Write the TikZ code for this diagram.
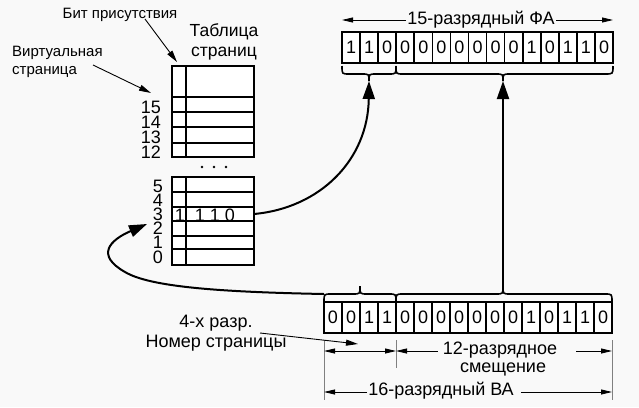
\documentclass[tikz,border=0pt]{standalone}
\usepackage{fontspec}
\setmainfont{Liberation Sans}
\usetikzlibrary{arrows.meta,calc}
\definecolor{bgc}{RGB}{249,249,249}
\begin{document}
\begin{tikzpicture}[x=1pt,y=-1pt,
  cellbox/.style={draw, line width=1.6pt, fill=white, inner sep=0pt, outer sep=0pt,
    anchor=north west, font=\fontsize{18}{18}\selectfont},
  tbl/.style={line width=2pt},
  lbl/.style={font=\fontsize{18}{20}\selectfont, inner sep=1pt, align=center},
  smalllbl/.style={font=\fontsize{15}{18}\selectfont, inner sep=1pt, align=left},
  numlbl/.style={font=\fontsize{18}{18}\selectfont, inner sep=0pt, anchor=east},
  bigarrow/.style={line width=2pt, -{Triangle[length=18pt,width=12pt]}},
  thinarrow/.style={line width=0.9pt, -{Triangle[length=12pt,width=6pt]}},
  dimline/.style={line width=0.8pt},
  dimtip/.style={-{Triangle[length=11pt,width=5pt]}},
  tick/.style={line width=0.8pt, draw=gray},
  bracestyle/.style={line width=1.6pt}
]
\useasboundingbox[fill=bgc] (0,0) rectangle (639,407);

% ---------- page table ----------
\draw[tbl, fill=white] (172,66) rectangle (254,157);
\draw[tbl] (186,66) -- (186,157);
\foreach \yy in {97,112,127,143} \draw[tbl] (172,\yy) -- (254,\yy);
\draw[tbl, fill=white] (172,177) rectangle (254,265);
\draw[tbl] (186,177) -- (186,265);
\foreach \yy in {192,207,221,236,249} \draw[tbl] (172,\yy) -- (254,\yy);
\fill (202,167) circle (1.3);
\fill (214,167) circle (1.3);
\fill (226,167) circle (1.3);

\node[numlbl] (n15) at (161,107) {15};
\node[numlbl] (n14) at (161,122) {14};
\node[numlbl] (n13) at (161,137) {13};
\node[numlbl] (n12) at (161,152) {12};
\node[numlbl] (n5) at (163,186) {5};
\node[numlbl] (n4) at (163,200) {4};
\node[numlbl] (n3) at (163,214) {3};
\node[numlbl] (n2) at (163,228) {2};
\node[numlbl] (n1) at (163,242.5) {1};
\node[numlbl] (n0) at (163,257.5) {0};

\node[font=\fontsize{18}{18}\selectfont, inner sep=0pt] (p3) at (180,215) {1};
\node[font=\fontsize{18}{18}\selectfont, inner sep=0pt] (f3) at (215,215) {1\hspace{5pt}1\hspace{5pt}0};

\node[font=\fontsize{17.5}{20}\selectfont, align=center, inner sep=0pt] (ttl) at (224,42) {Таблица\\страниц};
\node[smalllbl, align=center] (bit) at (120,15) {Бит присутствия};
\node[smalllbl, anchor=west] (virt) at (11,62) {Виртуальная\\страница};

\coordinate (bitend) at (177,62);
\coordinate (bitstart) at (145,19);
\draw[thinarrow] (bitstart) -- (bitend);
\coordinate (virtstart) at (93,65);
\coordinate (virtend) at (151,93);
\draw[thinarrow] (virtstart) -- (virtend);

% ---------- physical address register ----------
\foreach \b [count=\i from 0] in {1,1,0,0,0,0,0,0,0,0,1,0,1,1,0} {
  \node[cellbox, minimum width=18.07pt, minimum height=31pt] (fa\i) at ({342+\i*18.07},32) {\b};
}
% ---------- virtual address register ----------
\foreach \b [count=\i from 0] in {0,0,1,1,0,0,0,0,0,0,0,1,0,1,1,0} {
  \node[cellbox, minimum width=18pt, minimum height=31pt] (va\i) at ({324+\i*18},302) {\b};
}

% braces under FA
\draw[bracestyle] (342,66) .. controls (342,74) .. (349,74) -- (362,74)
   .. controls (369,74) .. (369,81) .. controls (369,74) .. (376,74) -- (389,74)
   .. controls (396,74) .. (396,66);
\draw[bracestyle] (396,66) .. controls (396,74) .. (403,74) -- (496,74)
   .. controls (503,74) .. (503,81) .. controls (503,74) .. (510,74) -- (605,74)
   .. controls (613,74) .. (613,66);
\coordinate (fatip1) at (369,81);
\coordinate (fatip2) at (503,81);

% braces above VA
\draw[bracestyle] (324,302) .. controls (324,294) .. (331,294) -- (353,294)
   .. controls (360,294) .. (360,286) .. controls (360,294) .. (367,294) -- (389,294)
   .. controls (396,294) .. (396,302);
\draw[bracestyle] (396,302) .. controls (396,294) .. (403,294) -- (496,294)
   .. controls (503,294) .. (503,286) .. controls (503,294) .. (510,294) -- (605,294)
   .. controls (612,294) .. (612,302);
\coordinate (vaL) at (324,294);
\coordinate (vatip2) at (503,286);

% main arrows
\coordinate (row3) at (254,214);
\coordinate (tblin) at (147,224);
\draw[bigarrow] (row3) .. controls (320,208) and (368,160) .. (fatip1);
\draw[bigarrow] (vatip2) -- (fatip2);
\draw[bigarrow] (vaL) .. controls (220,292) and (150,287) .. (125,272)
   .. controls (95,255) and (110,240) .. (tblin);

% FA dimension
\node[lbl] (fatxt) at (481,20) {15-разрядный ФА};
\coordinate (faL) at (342,20);
\coordinate (faR) at (613,20);
\draw[dimline, dimtip] (fatxt.west) -- (faL);
\draw[dimline, dimtip] (fatxt.east) -- (faR);

% VA dimensions
\coordinate (t1a) at (324,340);
\coordinate (t1b) at (324,400);
\coordinate (t2a) at (396,340);
\coordinate (t2b) at (396,368);
\coordinate (t3a) at (612,340);
\coordinate (t3b) at (612,400);
\draw[tick] (t1a) -- (t1b);
\draw[tick] (t2a) -- (t2b);
\draw[tick] (t3a) -- (t3b);

\coordinate (d1L) at (324,351);
\coordinate (d1R) at (396,351);
\draw[dimline, {Triangle[length=11pt,width=5pt]}-{Triangle[length=11pt,width=5pt]}] (d1L) -- (d1R);

\node[lbl] (off1) at (500,350) {12-разрядное};
\node[lbl] (off2) at (503,369) {смещение};
\coordinate (d2R) at (612,351);
\draw[dimline, dimtip] ($(off1.west)+(-4,1)$) -- (d1R);
\draw[dimline, dimtip] ($(off1.east)+(18,1)$) -- (d2R);

\node[lbl] (vatxt) at (441,391) {16-разрядный ВА};
\coordinate (d3L) at (324,392);
\coordinate (d3R) at (612,392);
\draw[dimline, dimtip] ($(vatxt.west)+(0,1)$) -- (d3L);
\draw[dimline, dimtip] ($(vatxt.east)+(6,1)$) -- (d3R);

% page number label
\node[lbl] (pn) at (216,333) {4-х разр.\\Номер страницы};
\coordinate (pnstart) at (260,333);
\coordinate (pnend) at (358,344);
\draw[thinarrow] (pnstart) -- (pnend);
\end{tikzpicture}
\end{document}
